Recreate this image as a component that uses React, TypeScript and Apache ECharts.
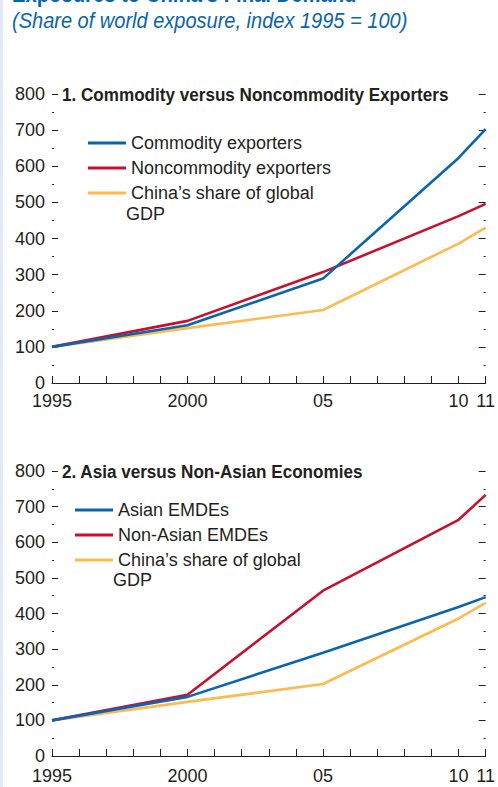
import React, { useEffect, useRef } from "react";
import * as echarts from "echarts";

const years = [1995, 2000, 2005, 2010, 2011];
const commodity = [100, 160, 289, 623, 703];
const noncommodity = [100, 172, 307, 462, 496];
const chinaGdp = [100, 152, 202, 386, 430];
const asian = [100, 166, 290, 418, 446];
const nonAsian = [100, 172, 464, 663, 733];
const yTicks = [0, 100, 200, 300, 400, 500, 600, 700, 800];
const xLabelMap: Record<number, string> = { 1995: "1995", 2000: "2000", 2005: "05", 2010: "10", 2011: "11" };

const FONT = "'Liberation Sans', Arial, sans-serif";
const BLUE = "#0a64b0";
const RED = "#c8102e";
const YELLOW = "#fdbb4f";
const TXT = "#231f20";

const pairs = (v: number[]) => years.map((y, i) => [y, v[i]]);

export default function App() {
  const ref = useRef<HTMLDivElement>(null);
  useEffect(() => {
    const chart = echarts.init(ref.current!, null, { renderer: "svg" });
    const grids = [
      { left: 52, right: 11, top: 94, height: 289 },
      { left: 52, right: 11, top: 471, height: 285 },
    ];
    const xAxes = grids.map((_, i) => ({
      type: "value",
      gridIndex: i,
      min: 1995,
      max: 2011,
      interval: 1,
      axisLine: { show: true, lineStyle: { color: TXT, width: 1 } },
      axisTick: { show: true, inside: true, length: 7, lineStyle: { color: TXT } },
      splitLine: { show: false },
      axisLabel: {
        color: TXT,
        fontFamily: FONT,
        fontSize: 18,
        margin: i === 0 ? 9 : 11,
        showMinLabel: true,
        showMaxLabel: true,
        formatter: (v: number) => xLabelMap[v] ?? "",
      },
    }));
    const yAxes: any[] = [];
    grids.forEach((_, i) => {
      yAxes.push({
        type: "value",
        gridIndex: i,
        position: "left",
        min: yTicks[0],
        max: yTicks[yTicks.length - 1],
        interval: 100,
        axisLine: { show: false },
        axisTick: { show: true, inside: true, length: 6, lineStyle: { color: TXT } },
        minorTick: { show: true, splitNumber: 2, length: 2, lineStyle: { color: TXT } },
        splitLine: { show: false },
        axisLabel: { color: TXT, fontFamily: FONT, fontSize: 18, margin: 7 },
      });
      yAxes.push({
        type: "value",
        gridIndex: i,
        position: "right",
        min: yTicks[0],
        max: yTicks[yTicks.length - 1],
        interval: 100,
        axisLine: { show: false },
        axisTick: { show: true, inside: true, length: 7, lineStyle: { color: TXT } },
        minorTick: { show: true, splitNumber: 2, length: 2, lineStyle: { color: TXT } },
        splitLine: { show: false },
        axisLabel: { show: false },
      });
    });
    const line = (name: string, data: number[], color: string, gi: number) => ({
      type: "line",
      name,
      xAxisIndex: gi,
      yAxisIndex: gi * 2,
      data: pairs(data),
      symbol: "none",
      lineStyle: { color, width: 2.6 },
      itemStyle: { color },
      z: color === YELLOW ? 1 : color === RED ? 2 : 3,
    });
    const chinaName = "China’s share of global GDP";
    const legendBase = {
      orient: "vertical",
      icon: "rect",
      itemWidth: 38,
      itemHeight: 3,
      itemGap: 5,
      textStyle: { color: TXT, fontFamily: FONT, fontSize: 18, lineHeight: 20 },
      formatter: (n: string) => (n.startsWith("China") ? "China’s share of global" : n),
    };
    chart.setOption({
      animation: false,
      backgroundColor: "#ffffff",
      grid: grids,
      xAxis: xAxes,
      yAxis: yAxes,
      legend: [
        { ...legendBase, left: 83, top: 128, data: ["Commodity exporters", "Noncommodity exporters", chinaName] },
        { ...legendBase, left: 70, top: 495, data: ["Asian EMDEs", "Non-Asian EMDEs", chinaName + " "] },
      ],
      series: [
        line("Commodity exporters", commodity, BLUE, 0),
        line("Noncommodity exporters", noncommodity, RED, 0),
        line(chinaName, chinaGdp, YELLOW, 0),
        line("Asian EMDEs", asian, BLUE, 1),
        line("Non-Asian EMDEs", nonAsian, RED, 1),
        line(chinaName + " ", chinaGdp, YELLOW, 1),
      ],
      graphic: [
        { type: "rect", left: 0, top: 0, shape: { width: 3, height: 787 }, style: { fill: "#e3e9f4" }, silent: true },
        {
          type: "text", x: 12, y: -6, scaleX: 0.88,
          style: { text: "Exposures to China’s Final Demand", fill: "#0a64b0", font: `bold 23px ${FONT}`, verticalAlign: "middle" },
        },
        {
          type: "text", x: 12, y: 20, scaleX: 0.91,
          style: { text: "(Share of world exposure, index 1995 = 100)", fill: "#0a64b0", font: `italic 22px ${FONT}`, verticalAlign: "middle" },
        },
        {
          type: "text", x: 62, y: 95, scaleX: 0.9,
          style: { text: "1. Commodity versus Noncommodity Exporters", fill: TXT, font: `bold 19px ${FONT}`, verticalAlign: "middle" },
        },
        {
          type: "text", x: 62, y: 472, scaleX: 0.9,
          style: { text: "2. Asia versus Non-Asian Economies", fill: TXT, font: `bold 19px ${FONT}`, verticalAlign: "middle" },
        },
        {
          type: "text", x: 126, y: 214,
          style: { text: "GDP", fill: TXT, font: `18px ${FONT}`, verticalAlign: "middle" },
        },
        {
          type: "text", x: 113, y: 580,
          style: { text: "GDP", fill: TXT, font: `18px ${FONT}`, verticalAlign: "middle" },
        },
      ],
    });
    return () => chart.dispose();
  }, []);
  return <div ref={ref} style={{ position: "absolute", left: 0, top: 0, width: 498, height: 787 }} />;
}
